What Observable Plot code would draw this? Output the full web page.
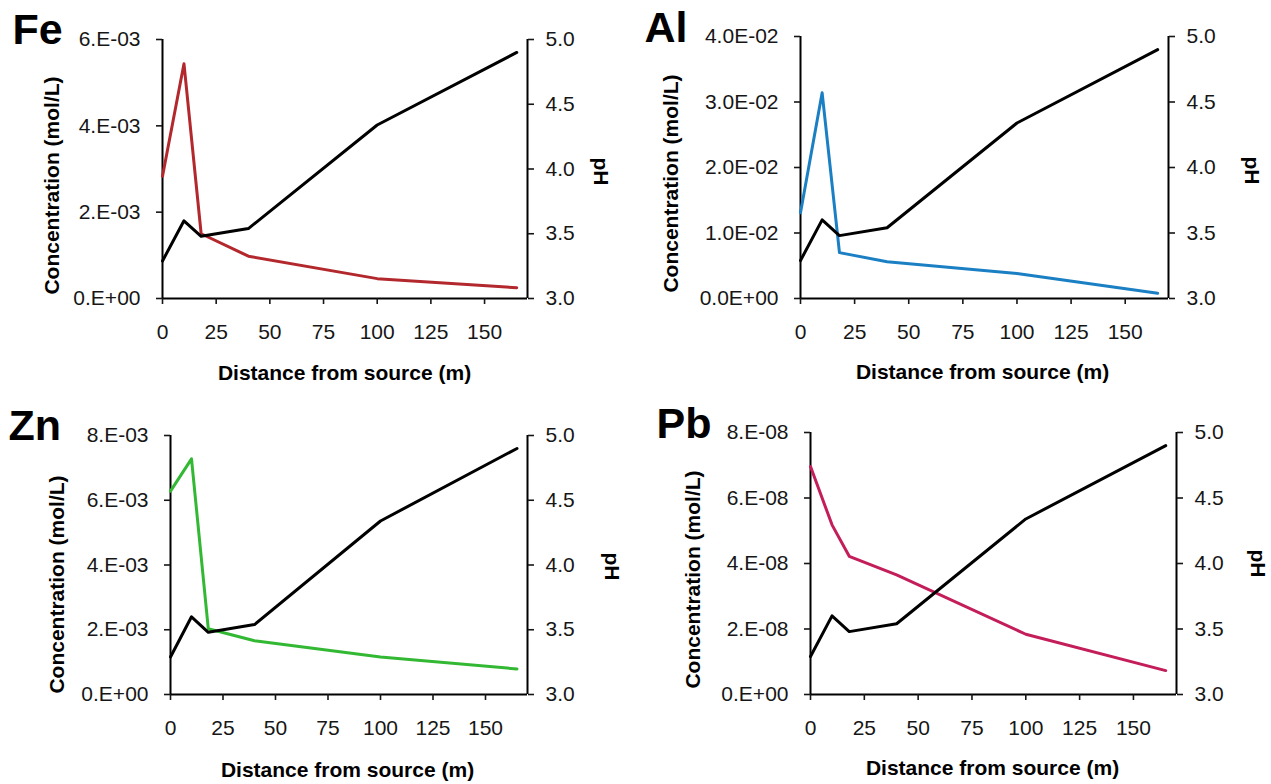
<!DOCTYPE html>
<html>
<head>
<meta charset="utf-8">
<script src="https://cdn.jsdelivr.net/npm/d3@7"></script>
<script src="https://cdn.jsdelivr.net/npm/@observablehq/plot@0.6"></script>
<style>
  html, body { margin: 0; padding: 0; background: #ffffff; }
  #root { position: relative; width: 1271px; height: 784px; overflow: hidden; background: #ffffff; }
  #root > svg { position: absolute; }
</style>
</head>
<body>
<div id="root"></div>
<script>
// ---------- data ----------
const distance = [0, 10, 18, 40, 100, 165];
const pH = [3.29, 3.60, 3.48, 3.54, 4.34, 4.90];
const feConc = [2.83e-3, 5.44e-3, 1.50e-3, 0.98e-3, 0.46e-3, 0.25e-3];
const alConc = [1.31e-2, 3.14e-2, 0.70e-2, 0.56e-2, 0.38e-2, 0.08e-2];
const znConc = [6.28e-3, 7.28e-3, 2.03e-3, 1.66e-3, 1.16e-3, 0.79e-3];
const pbConc = [6.96e-8, 5.18e-8, 4.22e-8, 3.65e-8, 1.84e-8, 0.73e-8];

const xTicks = [0, 25, 50, 75, 100, 125, 150];
const pHTicks = [3.0, 3.5, 4.0, 4.5, 5.0];
const feTicks = [0, 2e-3, 4e-3, 6e-3];
const feTickLabels = ["0.E+00", "2.E-03", "4.E-03", "6.E-03"];
const alTicks = [0, 1e-2, 2e-2, 3e-2, 4e-2];
const alTickLabels = ["0.0E+00", "1.0E-02", "2.0E-02", "3.0E-02", "4.0E-02"];
const znTicks = [0, 2e-3, 4e-3, 6e-3, 8e-3];
const znTickLabels = ["0.E+00", "2.E-03", "4.E-03", "6.E-03", "8.E-03"];
const pbTicks = [0, 2e-8, 4e-8, 6e-8, 8e-8];
const pbTickLabels = ["0.E+00", "2.E-08", "4.E-08", "6.E-08", "8.E-08"];

const elements = ["Fe", "Al", "Zn", "Pb"];
const xLabel = "Distance from source (m)";
const yLabel = "Concentration (mol/L)";
const y2Label = "pH";

// ---------- styling / layout (page coordinates) ----------
const series = {
  Fe: {conc: feConc, ticks: feTicks, labels: feTickLabels, color: "#b3282d"},
  Al: {conc: alConc, ticks: alTicks, labels: alTickLabels, color: "#1b7fc4"},
  Zn: {conc: znConc, ticks: znTicks, labels: znTickLabels, color: "#33b833"},
  Pb: {conc: pbConc, ticks: pbTicks, labels: pbTickLabels, color: "#c41e5a"}
};
const layout = {
  Fe: {left: 0,   top: 0,   w: 635, h: 392, L: 162, R: 527,  T: 39,  B: 298, title: [12, 43],  ylab: [52, 185],  xlab: [344, 373], plab: [600, 171]},
  Al: {left: 635, top: 0,   w: 636, h: 392, L: 800, R: 1168, T: 36,  B: 298, title: [644, 41], ylab: [671, 183], xlab: [982, 372], plab: [1251, 170]},
  Zn: {left: 0,   top: 392, w: 635, h: 392, L: 170, R: 527,  T: 435, B: 694, title: [8, 439],  ylab: [57, 584],  xlab: [347, 770], plab: [611, 566]},
  Pb: {left: 635, top: 392, w: 636, h: 392, L: 810, R: 1176, T: 432, B: 694, title: [656, 437], ylab: [693, 579], xlab: [992, 768], plab: [1257, 563]}
};
const xMax = 170;
const pHMin = 3, pHMax = 5;
const font = "'Liberation Sans', Arial, Helvetica, sans-serif";

const root = document.getElementById("root");

for (const el of elements) {
  const s = series[el];
  const g = layout[el];
  const yMax = s.ticks[s.ticks.length - 1];
  const rows = distance.map((d, i) => ({distance: d, conc: s.conc[i], pH: pH[i]}));
  const toY = p => (p - pHMin) / (pHMax - pHMin) * yMax;   // pH mapped onto the secondary axis
  const ox = g.L, oy = g.T;                                // frame origin in page coords
  const at = (pt) => ({dx: pt[0] - ox, dy: pt[1] - oy});

  const chart = Plot.plot({
    width: g.w,
    height: g.h,
    marginLeft: g.L - g.left,
    marginRight: g.left + g.w - g.R,
    marginTop: g.T - g.top,
    marginBottom: g.top + g.h - g.B,
    x: {domain: [0, xMax]},
    y: {domain: [0, yMax]},
    style: {fontFamily: font, fontSize: "21px", color: "#161616", background: "transparent", overflow: "visible"},
    marks: [
      // axis lines
      Plot.ruleX([0], {stroke: "#000", strokeWidth: 2}),
      Plot.ruleX([xMax], {stroke: "#000", strokeWidth: 2}),
      Plot.ruleY([0], {stroke: "#000", strokeWidth: 2}),
      // axes
      Plot.axisX(xTicks, {anchor: "bottom", tickSize: 6, tickPadding: 20, strokeWidth: 1.6, label: null, tickFormat: d => String(d)}),
      Plot.axisY(s.ticks, {anchor: "left", tickSize: 6, tickPadding: 16, strokeWidth: 1.6, label: null,
        tickFormat: d => s.labels[s.ticks.indexOf(d)]}),
      Plot.axisY(pHTicks.map(toY), {anchor: "right", tickSize: 6, tickPadding: 12, strokeWidth: 1.6, label: null,
        tickFormat: d => (pHMin + d / yMax * (pHMax - pHMin)).toFixed(1)}),
      // data lines
      Plot.line(rows, {x: "distance", y: "conc", stroke: s.color, strokeWidth: 3}),
      Plot.line(rows, {x: "distance", y: r => toY(r.pH), stroke: "#000", strokeWidth: 3}),
      // texts
      Plot.text([el], {frameAnchor: "top-left", ...at(g.title), text: d => d, textAnchor: "start", lineAnchor: "bottom",
        fontSize: 43, fontWeight: "bold", fill: "#000"}),
      Plot.text([yLabel], {frameAnchor: "top-left", ...at(g.ylab), text: d => d, rotate: -90, textAnchor: "middle", lineAnchor: "middle",
        fontSize: 21, fontWeight: "bold", fill: "#000"}),
      Plot.text([xLabel], {frameAnchor: "top-left", ...at(g.xlab), text: d => d, textAnchor: "middle", lineAnchor: "middle",
        fontSize: 21, fontWeight: "bold", fill: "#000"}),
      Plot.text([y2Label], {frameAnchor: "top-left", ...at(g.plab), text: d => d, rotate: 90, textAnchor: "middle", lineAnchor: "middle",
        fontSize: 21, fontWeight: "bold", fill: "#000"})
    ]
  });
  chart.style.left = g.left + "px";
  chart.style.top = g.top + "px";
  root.appendChild(chart);
}
</script>
</body>
</html>
